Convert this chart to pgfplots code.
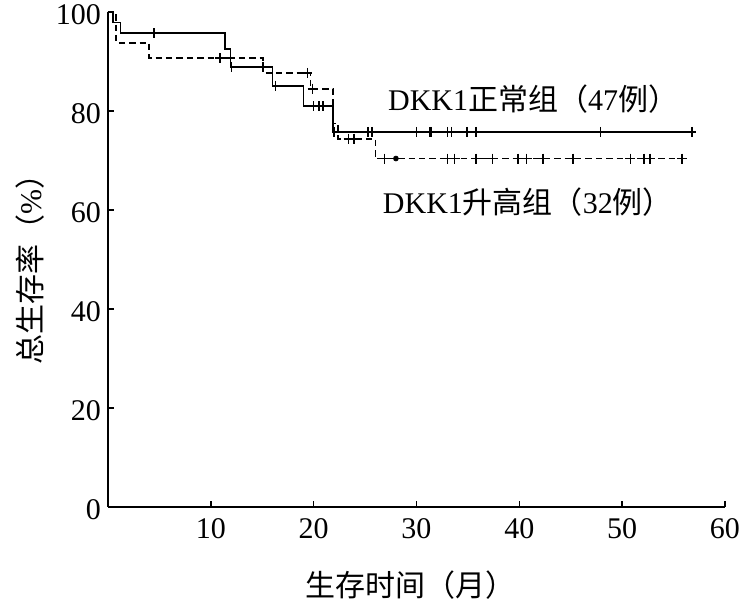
\documentclass[border=0pt]{standalone}
\usepackage{fontspec}
\setmainfont{Liberation Serif}
\newfontfamily\cjk{Noto Sans CJK SC}
\usepackage{pgfplots}
\pgfplotsset{compat=1.18}

\begin{document}
\begin{tikzpicture}[font=\fontsize{15}{18}\selectfont]
\useasboundingbox (-54pt,-51pt) rectangle (316.5pt,253.5pt);
\begin{axis}[
    at={(0,0)}, anchor=origin,
    width=308.5pt, height=247.5pt, scale only axis,
    xmin=0, xmax=60, ymin=0, ymax=100,
    axis lines=left,
    axis line style={-, line width=0.8pt},
    xtick={10,20,...,60},
    ytick={0,20,...,100},
    tick align=inside,
    major tick length=3pt,
    tick style={line width=0.7pt, black},
    /pgf/number format/assume math mode=true,
    xticklabel style={yshift=-2pt},
    yticklabel style={yshift=-1.5pt},
    clip=false,
]

% DKK1 normal group (solid)
\addplot[black, line width=0.8pt] coordinates {
    (0,100) (0.5,100) (0.5,97.9) (1.2,97.9) (1.2,95.7) (11.4,95.7) (11.4,92.5)
    (11.9,92.5) (11.9,88.9) (16.0,88.9) (16.0,85.1) (19.0,85.1) (19.0,81.0)
    (21.9,81.0) (21.9,75.8) (57.2,75.8)
};
\addplot[black, only marks, mark=|, mark size=2.5pt, mark options={line width=0.8pt}] coordinates {
    (4.5,95.7) (12.0,88.9) (15.1,88.9) (16.3,85.1) (20.0,81.0) (20.5,81.0) (20.9,81.0)
    (22.0,75.8) (25.3,75.8) (25.7,75.8) (30.0,75.8) (31.3,75.8) (31.45,75.8)
    (33.0,75.8) (33.4,75.8) (34.9,75.8) (35.8,75.8) (47.9,75.8) (56.8,75.8)
};

% DKK1 elevated group (dashed)
\addplot[black, line width=0.85pt, dash pattern=on 3.2pt off 2pt] coordinates {
    (0,100) (0.8,100) (0.8,93.8) (4.0,93.8) (4.0,90.7) (15.1,90.7) (15.1,87.7)
    (19.7,87.7) (19.7,84.5) (21.9,84.5) (21.9,77.5) (22.4,77.5) (22.4,74.4)
    (26.0,74.4) (26.0,70.4) (56.3,70.4)
};
\addplot[black, only marks, mark=+, mark size=2.5pt, mark options={line width=0.8pt}] coordinates {
    (10.9,90.7) (11.9,90.7) (19.4,87.7) (19.9,84.5) (23.4,74.4) (23.9,74.4)
    (26.9,70.4) (33.0,70.4) (33.7,70.4) (35.8,70.4) (37.4,70.4) (39.9,70.4)
    (40.7,70.4) (42.3,70.4) (45.2,70.4) (50.8,70.4) (52.1,70.4) (52.7,70.4) (55.8,70.4)
};
\addplot[black, only marks, mark=*, mark size=1.2pt] coordinates {(28.0,70.4)};

\node[anchor=west, inner sep=0pt] at (axis cs:27.2,82.4) {DKK1{\cjk 正常组（}47{\cjk 例）}};
\node[anchor=west, inner sep=0pt] at (axis cs:26.7,61.6) {DKK1{\cjk 升高组（}32{\cjk 例）}};
\node[rotate=90] at (axis cs:-7.6,49.5) {{\cjk 总生存率（}\%{\cjk ）}};
\node at (axis cs:29.4,-15.8) {\cjk 生存时间（月）};

\end{axis}
\end{tikzpicture}
\end{document}
